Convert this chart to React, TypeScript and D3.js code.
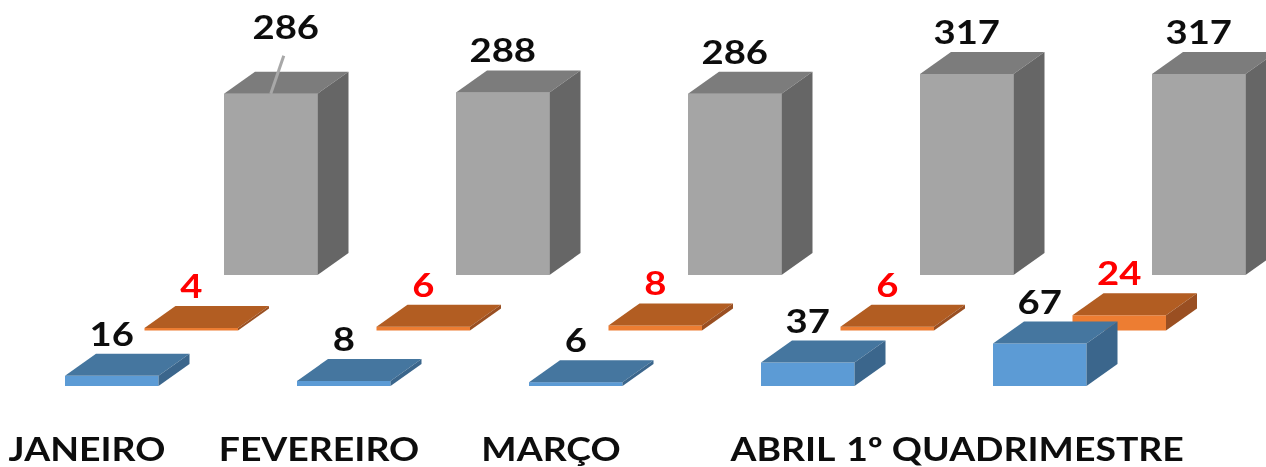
import * as d3 from 'd3';

const WIDTH = 1266;
const HEIGHT = 467;

const categories = ['JANEIRO', 'FEVEREIRO', 'MARÇO', 'ABRIL', '1º QUADRIMESTRE'];
const seriesNames = ['azul', 'laranja', 'cinza'];

const azul = [16, 8, 6, 37, 67];
const laranja = [4, 6, 8, 6, 24];
const cinza = [286, 288, 286, 317, 317];
const seriesValues = [azul, laranja, cinza];

const FACES: Record<string, { front: string; top: string; side: string; label: string }> = {
  azul: { front: '#5b9bd5', top: '#44769f', side: '#3b668c', label: '#111' },
  laranja: { front: '#ed7d31', top: '#b25d22', side: '#9a5020', label: '#ff0000' },
  cinza: { front: '#a5a5a5', top: '#7c7c7c', side: '#666666', label: '#111' },
};

const BAR_W = 93.5;
const DEPTH_X = 31;
const DEPTH_Y = 22;
const FONT = 'Lato, sans-serif';

const x0 = d3.scaleBand<string>().domain(categories).range([65, 65 + 232 * 5]);
const offset = d3.scalePoint<string>().domain(seriesNames).range([0, 159]);
const base = d3.scalePoint<string>().domain(seriesNames).range([386, 275]);
const h = d3.scaleLinear().domain([0, 317]).range([0, 201]);
const line = d3.line();

function Bar({ cat, name, value }: { cat: string; name: string; value: number }) {
  const x = (x0(cat) ?? 0) + (offset(name) ?? 0);
  const y1 = base(name) ?? 0;
  const y = y1 - h(value);
  const f = FACES[name];
  const r = x + BAR_W;
  return (
    <g>
      <rect x={x} y={y} width={BAR_W} height={y1 - y} fill={f.front} />
      <path
        d={line([[x, y], [x + DEPTH_X, y - DEPTH_Y], [r + DEPTH_X, y - DEPTH_Y], [r, y]]) + 'Z'}
        fill={f.top}
      />
      <path
        d={line([[r, y], [r + DEPTH_X, y - DEPTH_Y], [r + DEPTH_X, y1 - DEPTH_Y], [r, y1]]) + 'Z'}
        fill={f.side}
      />
    </g>
  );
}

function Label({ cat, name, value, moved }: { cat: string; name: string; value: number; moved: boolean }) {
  const x = (x0(cat) ?? 0) + (offset(name) ?? 0) + BAR_W / 2;
  const y = (base(name) ?? 0) - h(value);
  // o primeiro rotulo cinza foi arrastado e tem linha de chamada
  const lx = moved ? x + 15 : x;
  const ly = moved ? y - 55 : y - DEPTH_Y - 8;
  return (
    <g>
      {moved && <line x1={x} y1={y} x2={x + 13} y2={y - 38} stroke="#a8a8a8" strokeWidth={3} />}
      <text
        transform={`translate(${lx},${ly}) scale(1.16,1)`}
        textAnchor="middle"
        fontFamily={FONT}
        fontWeight={700}
        fontSize={33}
        fill={FACES[name].label}
      >
        {value}
      </text>
    </g>
  );
}

export default function App() {
  const drawOrder = [2, 1, 0];
  return (
    <svg
      width={WIDTH}
      height={HEIGHT}
      style={{ position: 'absolute', left: 0, top: 0, display: 'block' }}
    >
      <defs>
        <filter id="soft" x="0" y="0" width="100%" height="100%">
          <feGaussianBlur stdDeviation="0.6" />
        </filter>
      </defs>
      <rect width={WIDTH} height={HEIGHT} fill="#fff" />
      <g filter="url(#soft)">
        {drawOrder.map((s) =>
          categories.map((c, i) => (
            <Bar key={`${s}-${c}`} cat={c} name={seriesNames[s]} value={seriesValues[s][i]} />
          )),
        )}
        {drawOrder.map((s) =>
          categories.map((c, i) => (
            <Label
              key={`${s}-${c}`}
              cat={c}
              name={seriesNames[s]}
              value={seriesValues[s][i]}
              moved={s === 2 && i === 0}
            />
          )),
        )}
        {categories.map((c) => (
          <text
            key={c}
            transform={`translate(${(x0(c) ?? 0) + 22},461) scale(1.15,1)`}
            textAnchor="middle"
            fontFamily={FONT}
            fontWeight={700}
            fontSize={32.5}
            fill="#111"
          >
            {c}
          </text>
        ))}
      </g>
    </svg>
  );
}
